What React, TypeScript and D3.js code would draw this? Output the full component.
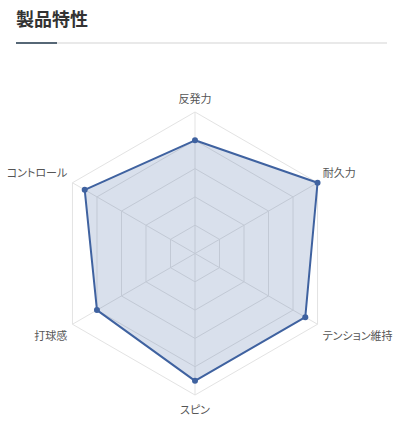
import React from "react";
import * as d3 from "d3";

const title = "製品特性";
const axes = ["反発力", "耐久力", "テンション維持", "スピン", "打球感", "コントロール"];
const values = [4, 5, 4.5, 4.5, 4, 4.5];
const maxValue = 5;
const splitNumber = 5;

const W = 404;
const H = 441;
const cx = 195;
const cy = 253.5;
const R = 141.5;
const nameGap = 6;
const lineColor = "#3f62a0";

export default function App() {
  const r = d3.scaleLinear().domain([0, maxValue]).range([0, R]);
  const angle = (i: number) => (i / axes.length) * 2 * Math.PI; // clockwise from top
  const pt = (i: number, rad: number): [number, number] => [
    cx + rad * Math.sin(angle(i)),
    cy - rad * Math.cos(angle(i)),
  ];
  const closed = d3.line().curve(d3.curveLinearClosed);
  const levels = d3.range(1, splitNumber + 1).map((k) => (k * maxValue) / splitNumber);
  const dataPts = values.map((v, i) => pt(i, r(v)));

  return (
    <svg
      width={W}
      height={H}
      style={{ position: "absolute", left: 0, top: 0, background: "#fff" }}
      fontFamily="'Noto Sans CJK JP', 'Noto Sans', sans-serif"
    >
      <text x={16} y={26} fontSize={18} fontWeight={700} fill="#333">
        {title}
      </text>
      <line x1={57} x2={387} y1={43} y2={43} stroke="#e2e2e2" strokeWidth={1.5} />
      <line x1={16} x2={57} y1={43} y2={43} stroke="#1e3448" strokeWidth={1.5} />

      <g>
        {levels.map((lv) => (
          <path
            key={lv}
            d={closed(axes.map((_, i) => pt(i, r(lv))))!}
            fill="none"
            stroke="#e3e3e3"
            strokeWidth={1}
          />
        ))}
        {axes.map((_, i) => {
          const [x, y] = pt(i, R);
          return <line key={i} x1={cx} y1={cy} x2={x} y2={y} stroke="#e3e3e3" strokeWidth={1} />;
        })}
      </g>

      <path
        d={closed(dataPts)!}
        fill={lineColor}
        fillOpacity={0.2}
        stroke={lineColor}
        strokeWidth={2}
        strokeLinejoin="round"
      />
      {dataPts.map(([x, y], i) => (
        <circle key={i} cx={x} cy={y} r={3} fill={lineColor} />
      ))}

      {axes.map((name, i) => {
        const [x, y] = pt(i, R + nameGap);
        const s = Math.sin(angle(i));
        const c = Math.cos(angle(i));
        const anchor = s > 0.01 ? "start" : s < -0.01 ? "end" : "middle";
        const baseline = c > 0.01 ? "text-after-edge" : c < -0.01 ? "text-before-edge" : "middle";
        return (
          <text
            key={name}
            x={x}
            y={y}
            fontSize={11}
            fill="#555"
            textAnchor={anchor}
            dominantBaseline={baseline}
            style={{ fontFeatureSettings: "'palt'" }}
          >
            {name}
          </text>
        );
      })}
    </svg>
  );
}
